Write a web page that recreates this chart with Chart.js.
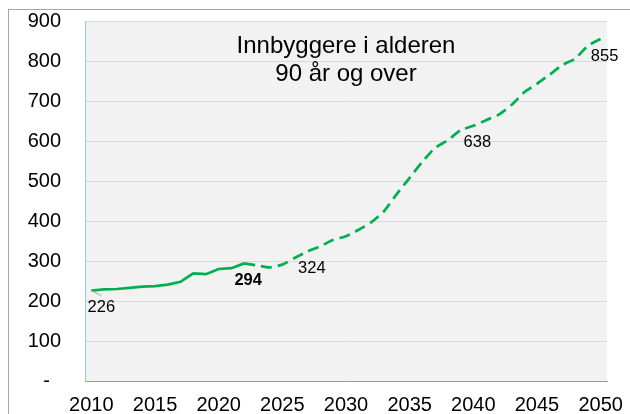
<!DOCTYPE html>
<html lang="no">
<head>
<meta charset="utf-8">
<title>Innbyggere i alderen 90 år og over</title>
<script src="https://cdn.jsdelivr.net/npm/chart.js@4.4.1/dist/chart.umd.min.js"></script>
<style>
  html, body { margin: 0; padding: 0; background: #ffffff; }
  #wrap { width: 630px; height: 414px; position: relative; }
</style>
</head>
<body>
<div id="wrap"><canvas id="chart" width="630" height="414"></canvas></div>
<script>
// Innbyggere 90 år og over, registrert 2010–2022 og framskrevet 2023–2050
const years = [
  2010, 2011, 2012, 2013, 2014, 2015, 2016, 2017, 2018, 2019,
  2020, 2021, 2022, 2023, 2024, 2025, 2026, 2027, 2028, 2029,
  2030, 2031, 2032, 2033, 2034, 2035, 2036, 2037, 2038, 2039,
  2040, 2041, 2042, 2043, 2044, 2045, 2046, 2047, 2048, 2049, 2050
];
const residents = [
  226, 229, 230, 233, 236, 237, 241, 248, 269, 267,
  280, 282, 294, 289, 284, 291, 308, 324, 337, 353,
  362, 378, 397, 425, 468, 508, 548, 583, 602, 627,
  638, 652, 666, 690, 722, 743, 766, 790, 806, 838, 855
];
const lastObservedYear = 2022;
const labelledYears = [2010, 2022, 2027, 2040, 2050];
const yTicks = [0, 100, 200, 300, 400, 500, 600, 700, 800, 900];
const titleLines = ['Innbyggere i alderen', '90 år og over'];

const FONT = "'Liberation Sans', Arial, sans-serif";
const GREEN = '#00b050';
const splitIdx = years.indexOf(lastObservedYear);

const observed = residents.map((v, i) => (i <= splitIdx ? v : null));
const projected = residents.map((v, i) => (i >= splitIdx ? v : null));

// grey frame, light plot background
const framePlugin = {
  id: 'frame',
  beforeDraw(chart) {
    const { ctx, chartArea: a } = chart;
    ctx.save();
    ctx.fillStyle = '#ffffff';
    ctx.fillRect(0, 0, chart.width, chart.height);
    ctx.strokeStyle = '#a6a6a6';
    ctx.lineWidth = 1;
    ctx.strokeRect(8.5, 9.5, chart.width + 20, chart.height + 20);
    ctx.fillStyle = '#f2f2f2';
    ctx.fillRect(a.left, a.top, a.right - a.left, a.bottom - a.top);
    ctx.restore();
  }
};

// title inside the plot area
const innerTitlePlugin = {
  id: 'innerTitle',
  afterDatasetsDraw(chart) {
    const { ctx, chartArea: a } = chart;
    const cx = (a.left + a.right) / 2;
    ctx.save();
    ctx.fillStyle = '#000000';
    ctx.font = '24px ' + FONT;
    ctx.textAlign = 'center';
    ctx.textBaseline = 'alphabetic';
    titleLines.forEach((line, i) => ctx.fillText(line, cx, a.top + 32 + i * 28));
    ctx.restore();
  }
};

// value labels under selected points
const valueLabelPlugin = {
  id: 'valueLabels',
  afterDatasetsDraw(chart) {
    const { ctx } = chart;
    const xs = chart.scales.x, ys = chart.scales.y;
    ctx.save();
    ctx.textAlign = 'center';
    ctx.textBaseline = 'middle';
    labelledYears.forEach((yr, n) => {
      const idx = years.indexOf(yr);
      const v = residents[idx];
      const px = xs.getPixelForValue(idx);
      const py = ys.getPixelForValue(v);
      const dx = n === 0 ? 10 : 4;
      const dy = 17;
      if (n === 0) {
        ctx.strokeStyle = '#a6a6a6';
        ctx.lineWidth = 1;
        ctx.beginPath();
        ctx.moveTo(px, py);
        ctx.lineTo(px + 10, py + 5);
        ctx.stroke();
      }
      ctx.fillStyle = '#000000';
      ctx.font = (yr === lastObservedYear ? 'bold ' : '') + '16.5px ' + FONT;
      ctx.fillText(String(v), px + dx, py + dy);
    });
    ctx.restore();
  }
};

new Chart(document.getElementById('chart'), {
  type: 'line',
  data: {
    labels: years,
    datasets: [
      {
        label: 'Registrert',
        data: observed,
        borderColor: GREEN,
        borderWidth: 2.75,
        pointRadius: 0,
        tension: 0,
        spanGaps: false
      },
      {
        label: 'Framskrevet',
        data: projected,
        borderColor: GREEN,
        borderWidth: 2.75,
        borderDash: [11, 6],
        pointRadius: 0,
        tension: 0.2,
        spanGaps: false
      }
    ]
  },
  options: {
    responsive: false,
    animation: false,
    devicePixelRatio: 1,
    layout: { padding: { left: 0, right: 23, top: 21, bottom: 0 } },
    plugins: {
      legend: { display: false },
      title: { display: false },
      tooltip: { enabled: false }
    },
    scales: {
      x: {
        type: 'category',
        offset: true,
        grid: { display: false, drawTicks: false },
        border: { display: true, color: '#7f9fd3', width: 1 },
        ticks: {
          autoSkip: false,
          maxRotation: 0,
          minRotation: 0,
          padding: 12,
          color: '#000000',
          font: { family: FONT, size: 20 },
          callback: (val, i) => (years[i] % 5 === 0 ? String(years[i]) : '')
        },
        afterFit(scale) {
          scale.height = 33;
          scale.paddingLeft = 0;
          scale.paddingRight = 0;
        }
      },
      y: {
        min: yTicks[0],
        max: yTicks[yTicks.length - 1],
        afterBuildTicks(scale) { scale.ticks = yTicks.map(v => ({ value: v })); },
        grid: { color: '#d9d9d9', lineWidth: 1, drawTicks: false },
        border: { display: true, color: '#9dc3e6', width: 1 },
        ticks: {
          padding: 24,
          color: '#000000',
          font: { family: FONT, size: 20 },
          callback: v => (v === 0 ? '-  ' : String(v))
        },
        afterFit(scale) {
          scale.width = 85;
          scale.paddingTop = 0;
          scale.paddingBottom = 0;
        }
      }
    }
  },
  plugins: [framePlugin, innerTitlePlugin, valueLabelPlugin]
});
</script>
</body>
</html>
